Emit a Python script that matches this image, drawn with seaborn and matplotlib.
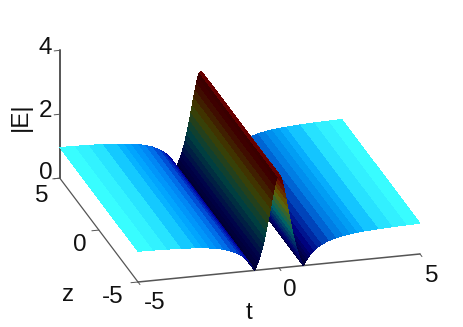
import numpy as np
import matplotlib
matplotlib.use("Agg")
import matplotlib.pyplot as plt
import seaborn as sns
from mpl_toolkits.mplot3d import proj3d

# profile, same along all of z
t_vals = [-5, -4.5, -4, -3.5, -3, -2.75, -2.5, -2.25, -2, -1.75, -1.5, -1.375, -1.25, -1.125, -1.06,
          -1, -0.95, -0.9, -0.866, -0.83, -0.8, -0.75, -0.7, -0.65, -0.6, -0.55, -0.5, -0.45, -0.4,
          -0.35, -0.3, -0.25, -0.2, -0.15, -0.1, -0.05, 0,
          0.05, 0.1, 0.15, 0.2, 0.25, 0.3, 0.35, 0.4, 0.45, 0.5, 0.55, 0.6, 0.65, 0.7, 0.75, 0.8,
          0.83, 0.866, 0.9, 0.95, 1, 1.06,
          1.125, 1.25, 1.375, 1.5, 1.75, 2, 2.25, 2.5, 2.75, 3, 3.5, 4, 4.5, 5]
e_vals = [0.96, 0.951, 0.938, 0.92, 0.892, 0.872, 0.846, 0.812, 0.765, 0.698, 0.6, 0.533, 0.448, 0.34, 0.272,
          0.2, 0.132, 0.057, 0.0, 0.065, 0.124, 0.231, 0.351, 0.487, 0.639, 0.81, 1.0, 1.21, 1.43,
          1.66, 1.9, 2.14, 2.36, 2.58, 2.76, 2.87, 2.9,
          2.87, 2.76, 2.58, 2.36, 2.14, 1.9, 1.66, 1.43, 1.21, 1.0, 0.81, 0.639, 0.487, 0.351, 0.231, 0.124,
          0.065, 0.0, 0.057, 0.132, 0.2, 0.272,
          0.34, 0.448, 0.533, 0.6, 0.698, 0.765, 0.812, 0.846, 0.872, 0.892, 0.92, 0.938, 0.951, 0.96]
z_vals = [-5, 5]
t_ticks = [-5, 0, 5]
z_ticks = [-5, 0, 5]
e_ticks = [0, 2, 4]

sns.set_style("white")
plt.rcParams["font.family"] = ["Liberation Sans", "DejaVu Sans"]
W, H = 463, 327
fig = plt.figure(figsize=(W / 100, H / 100), dpi=100)
ax = fig.add_axes([0, 0, 1, 1], projection="3d", proj_type="ortho", computed_zorder=False)
ax.view_init(elev=21.3, azim=-105.3)
ax.set_box_aspect((292, 296, 137))
ax.set_xlim(-5, 5)
ax.set_ylim(-5, 5)
ax.set_zlim(0, 4)
ax.set_axis_off()

T, Z = np.meshgrid(t_vals, z_vals)
E = np.array([e_vals, e_vals])

# jet-like colours, darkened on the steep faces like the matlab lighting
t_arr = np.array(t_vals)
e_arr = np.array(e_vals)
mid = (e_arr[:-1] + e_arr[1:]) / 2
slope = np.diff(e_arr) / np.diff(t_arr) * 2.5
light = np.array([0.1, 1.0]) / np.hypot(0.1, 1.0)
nz = 1 / np.sqrt(1 + slope ** 2)
nx = -slope * nz
shade = 0.25 + 0.75 * np.clip(nx * light[0] + nz * light[1], 0, 1)
cmap = sns.blend_palette(["#000080", "#0000ff", "#0080ff", "#00ffff", "#80ff80",
                          "#ffff00", "#ff8000", "#ff0000", "#800000"], as_cmap=True)
rgb = cmap(mid / 3.0)[:, :3] * shade[:, None] + 0.25 * nz[:, None] ** 120
cols = np.clip(np.column_stack([rgb, np.ones(len(mid))]), 0, 1).reshape(1, -1, 4)

ax.plot_surface(T, Z, E, facecolors=cols, rcount=2, ccount=len(t_vals), linewidth=0,
                antialiased=False, shade=False, zorder=3)

# axis lines, drawn by hand because the matlab box sits on other edges than mplot3d
grey = "#555555"
ax.plot([-5, 5], [-5, -5], [0, 0], color=grey, lw=1.1, zorder=2)
ax.plot([-5, -5], [-5, 5], [0, 0], color=grey, lw=0.9, zorder=2)
ax.plot([-5, -5], [5, 5], [0, 4], color=grey, lw=1.4, zorder=2)
for v in t_ticks:
    ax.plot([v, v], [-5, -5.25], [0, 0], color=grey, lw=0.7, zorder=2)
for v in z_ticks:
    ax.plot([-5, -5.25], [v, v], [0, 0], color=grey, lw=0.7, zorder=2)
for v in e_ticks:
    ax.plot([-5, -5.2], [5, 5], [v, v], color=grey, lw=0.7, zorder=2)


def to_px(x, y, z):
    ax.apply_aspect()
    X, Y, _ = proj3d.proj_transform(x, y, z, ax.get_proj())
    dx, dy = ax.transData.transform((X, Y))
    return dx, H - dy


# fit the box so the front t axis lands where it is in the picture
for _ in range(3):
    p0 = to_px(-5, -5, 0)
    p1 = to_px(5, -5, 0)
    s = 282 / (p1[0] - p0[0])
    l, b, w, h = ax.get_position(original=True).bounds
    ax.set_position([l + w * (1 - s) / 2, b + h * (1 - s) / 2, w * s, h * s])
    p0 = to_px(-5, -5, 0)
    l, b, w, h = ax.get_position(original=True).bounds
    ax.set_position([l + (138 - p0[0]) / W, b - (282 - p0[1]) / H, w, h])


def label(x, y, txt, **kw):
    fig.text(x / W, 1 - y / H, txt, ha="center", va="center", fontsize=17.5, color="#111111", **kw)


for (x, y), v in zip([(155, 303), (290, 290), (432, 276)], t_ticks):
    label(x, y, str(v))
for (x, y), v in zip([(113, 297), (80, 245), (42, 196)], z_ticks):
    label(x, y, str(v))
for (x, y), v in zip([(46, 173), (45, 111), (45, 48)], e_ticks):
    label(x, y, str(v))
label(249, 313, "t")
label(68, 295, "z")
label(21, 117, "|E|", rotation=90)

fig.savefig("out.png", dpi=100)
